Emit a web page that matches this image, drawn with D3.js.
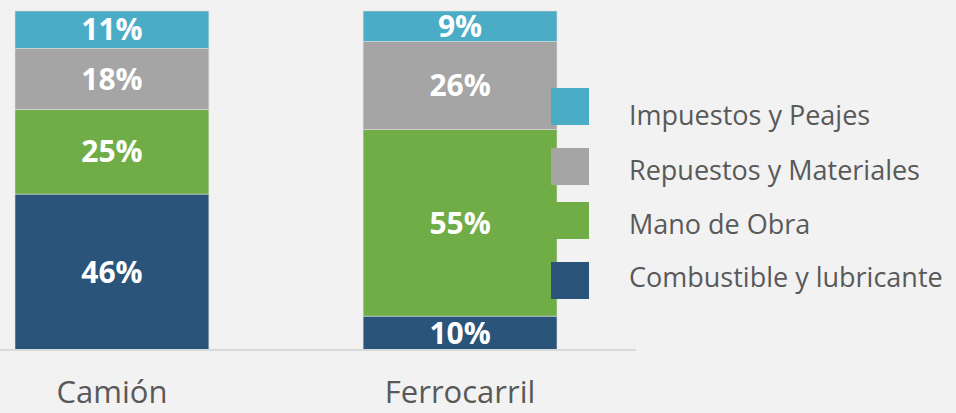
<!DOCTYPE html>
<html><head><meta charset="utf-8">
<script src="https://cdn.jsdelivr.net/npm/d3@7"></script>
<style>html,body{margin:0;padding:0;background:#f2f2f2;}svg{display:block;}</style>
</head><body>
<svg id="c" width="956" height="413"></svg>
<script>
const categories = ["Camión", "Ferrocarril"];
const seriesNames = ["Combustible y lubricante", "Mano de Obra", "Repuestos y Materiales", "Impuestos y Peajes"];
const combustible = [46, 10];
const manoObra = [25, 55];
const repuestos = [18, 26];
const impuestos = [11, 9];
const colors = ["#2a5479", "#70ad47", "#a5a5a5", "#4bacc6"];

const seriesValues = [combustible, manoObra, repuestos, impuestos];
const rows = categories.map((c, i) => {
  const r = {cat: c};
  seriesNames.forEach((s, j) => r[s] = seriesValues[j][i]);
  return r;
});

const svg = d3.select("#c");
const x = d3.scaleBand().domain(categories).range([15, 557]).paddingInner(0.443).paddingOuter(0);
const y = d3.scaleLinear().domain([0, 100]).range([350, 11]);
const stack = d3.stack().keys(seriesNames)(rows);

const g = svg.append("g");
stack.forEach((layer, li) => {
  g.selectAll(null).data(layer).enter().append("rect")
    .attr("x", d => x(d.data.cat))
    .attr("width", x.bandwidth())
    .attr("y", d => y(d[1]))
    .attr("height", d => y(d[0]) - y(d[1]))
    .attr("fill", colors[li])
    .attr("stroke", "#dcdcdc").attr("stroke-width", 0.6);
  g.selectAll(null).data(layer).enter().append("text")
    .attr("x", d => x(d.data.cat) + x.bandwidth() / 2)
    .attr("y", d => (y(d[0]) + y(d[1])) / 2)
    .attr("dy", "0.36em")
    .attr("text-anchor", "middle")
    .attr("fill", "#ffffff")
    .attr("font-family", "Open Sans")
    .attr("font-weight", "bold")
    .attr("font-size", 30)
    .text(d => (d[1] - d[0]) + "%");
});

// axis
const axis = svg.append("g").attr("transform", "translate(0,350)")
  .call(d3.axisBottom(x).tickSize(0).tickPadding(31));
axis.select(".domain").attr("d", "M0,0H636").attr("stroke", "#d9d9d9").attr("stroke-width", 2);
axis.selectAll(".tick text").attr("font-family", "Open Sans").attr("font-size", 31).attr("fill", "#595959");

// legend (top to bottom reversed)
const legendOrder = [3, 2, 1, 0];
const legendY = [88, 148, 202, 262];
const legendBase = [125, 180, 234, 287];
const lg = svg.append("g");
legendOrder.forEach((si, k) => {
  lg.append("rect").attr("x", 551).attr("y", legendY[k]).attr("width", 38).attr("height", 37).attr("fill", colors[si]);
  lg.append("text").attr("x", 629).attr("y", legendBase[k])
    .attr("font-family", "Open Sans").attr("font-size", 27).attr("fill", "#595959")
    .text(seriesNames[si]);
});
</script>
</body></html>
